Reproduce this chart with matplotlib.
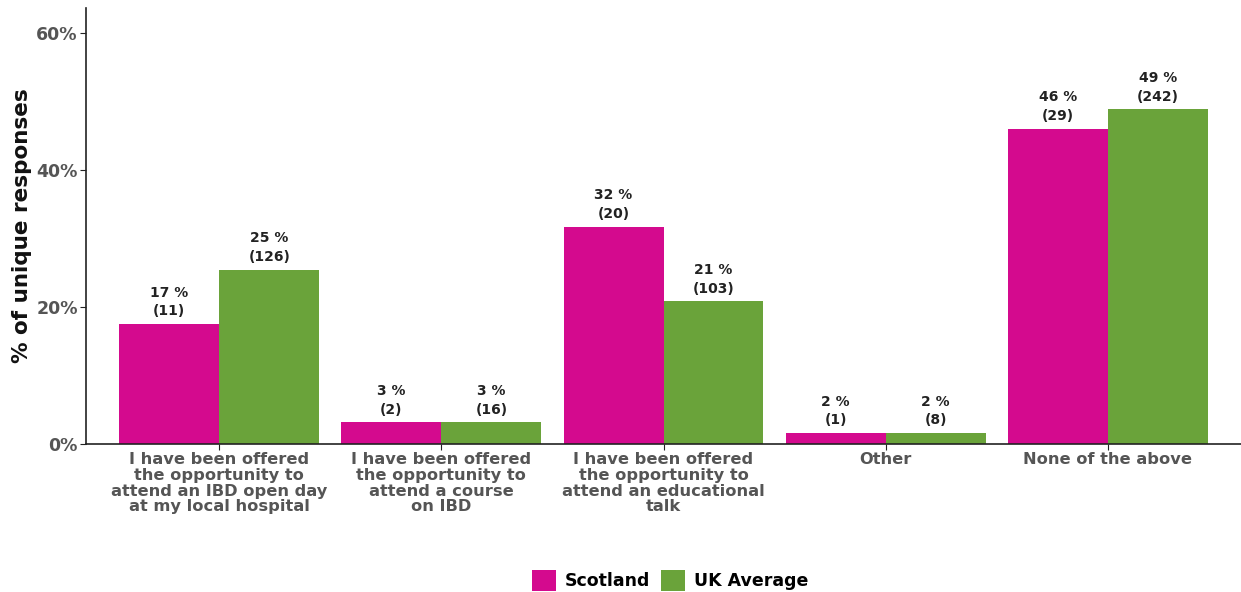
import matplotlib
matplotlib.use("Agg")
import matplotlib.pyplot as plt
import numpy as np

categories = [
    "I have been offered\nthe opportunity to\nattend an IBD open day\nat my local hospital",
    "I have been offered\nthe opportunity to\nattend a course\non IBD",
    "I have been offered\nthe opportunity to\nattend an educational\ntalk",
    "Other",
    "None of the above",
]
scotland_pct = [17.5, 3.2, 31.7, 1.6, 46.0]
scotland_n = [11, 2, 20, 1, 29]
scotland_lbl = ["17 %", "3 %", "32 %", "2 %", "46 %"]
uk_pct = [25.4, 3.2, 20.8, 1.6, 48.8]
uk_n = [126, 16, 103, 8, 242]
uk_lbl = ["25 %", "3 %", "21 %", "2 %", "49 %"]
yticks = [0, 20, 40, 60]

plt.rcParams['font.family'] = ['DejaVu Sans']

fig = plt.figure(figsize=(12.41, 5.92), dpi=100)
ax = fig.add_axes([0.0693, 0.25, 0.9307, 0.7365])

c_sco = "#D40A8E"
c_uk = "#6AA33A"
w = 0.45
x = np.arange(len(categories))
b1 = ax.bar(x - w/2, scotland_pct, w, color=c_sco, label="Scotland")
b2 = ax.bar(x + w/2, uk_pct, w, color=c_uk, label="UK Average")

for xi, v, l, n in zip(x - w/2, scotland_pct, scotland_lbl, scotland_n):
    ax.annotate(f"{l}\n({n})", (xi, v), xytext=(0, 4), textcoords="offset points",
                ha="center", va="bottom", fontsize=10, fontweight="bold",
                color="#222222", linespacing=1.45)
for xi, v, l, n in zip(x + w/2, uk_pct, uk_lbl, uk_n):
    ax.annotate(f"{l}\n({n})", (xi, v), xytext=(0, 4), textcoords="offset points",
                ha="center", va="bottom", fontsize=10, fontweight="bold",
                color="#222222", linespacing=1.45)

ax.set_xlim(-0.6, 4.6)
ax.set_ylim(0, 63.6)
ax.set_yticks(yticks)
ax.set_yticklabels([f"{t}%" for t in yticks], fontsize=12.5, fontweight="bold", color="#555555")
ax.set_xticks(x)
ax.set_xticklabels(categories, fontsize=11.7, fontweight="bold", color="#555555", linespacing=1.05)
ax.set_ylabel("% of unique responses", fontsize=15.5, fontweight="bold", color="#111111", labelpad=3)

for s in ["top", "right"]:
    ax.spines[s].set_visible(False)
for s in ["left", "bottom"]:
    ax.spines[s].set_color("#222222")
    ax.spines[s].set_linewidth(1.2)
ax.tick_params(axis="both", length=4, color="#222222", pad=2)

fig.legend(handles=[b1, b2], loc="center", bbox_to_anchor=(0.54, 0.02), ncol=2,
           frameon=False, prop={"weight": "bold", "size": 12.5}, handlelength=1.4,
           handleheight=1.5, handletextpad=0.5, columnspacing=0.6)

fig.savefig("out.png", dpi=100)
